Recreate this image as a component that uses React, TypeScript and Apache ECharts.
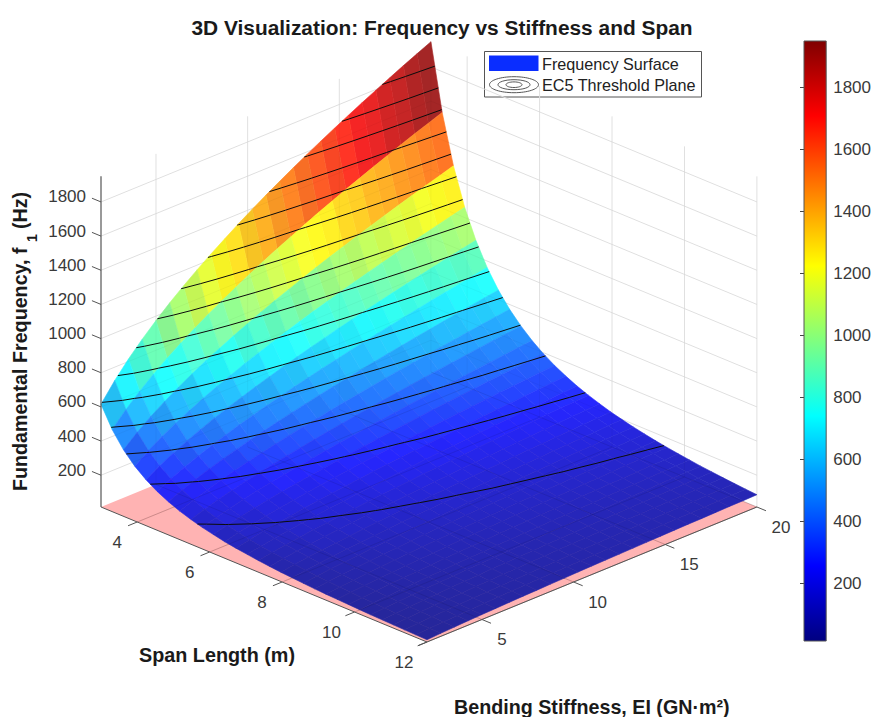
import React, { useEffect, useRef } from "react";
import * as echarts from "echarts";

const spans = [3, 3.31, 3.621, 3.931, 4.241, 4.552, 4.862, 5.172, 5.483, 5.793, 6.103, 6.414, 6.724, 7.034, 7.345, 7.655, 7.966, 8.276, 8.586, 8.897, 9.207, 9.517, 9.828, 10.138, 10.448, 10.759, 11.069, 11.379, 11.69, 12];
const stiffness = [2, 2.75, 3.5, 4.25, 5, 5.75, 6.5, 7.25, 8, 8.75, 9.5, 10.25, 11, 11.75, 12.5, 13.25, 14, 14.75, 15.5, 16.25, 17, 17.75, 18.5, 19.25, 20];
const frequency = [
  [616,722,815,898,974,1045,1111,1173,1232,1288,1343,1395,1445,1493,1540,1586,1630,1673,1715,1756,1796,1835,1874,1911,1948],
  [494,579,653,720,781,837,890,940,987,1032,1076,1118,1158,1196,1234,1271,1306,1341,1374,1407,1439,1471,1502,1531,1561],
  [403,473,534,588,638,684,728,768,807,844,880,914,946,978,1009,1039,1067,1096,1123,1150,1176,1202,1227,1251,1276],
  [335,393,444,489,530,569,605,638,671,701,731,759,787,813,838,863,887,911,933,956,978,999,1020,1040,1060],
  [283,331,374,412,447,480,510,538,565,591,616,640,663,685,707,728,748,768,787,806,824,842,860,877,894],
  [241,283,319,351,381,409,435,459,482,504,526,546,566,584,603,621,638,655,671,687,703,718,733,748,762],
  [208,244,275,303,329,353,375,396,416,435,453,471,488,504,520,535,550,564,579,592,606,619,632,645,657],
  [181,212,239,264,286,307,326,344,362,378,394,410,424,438,452,466,479,491,504,516,527,539,550,561,572],
  [159,186,210,231,251,269,286,302,317,332,346,359,372,384,397,408,420,431,442,452,462,473,483,492,502],
  [140,164,185,204,222,238,253,267,280,293,306,317,329,340,350,361,371,381,390,399,409,417,426,435,443],
  [125,146,165,182,197,212,225,237,249,261,272,282,292,302,312,321,330,339,347,355,364,371,379,387,394],
  [111,131,147,162,176,189,201,212,223,233,243,252,261,270,279,287,295,303,310,318,325,332,339,346,352],
  [100,117,133,146,158,170,181,191,200,210,219,227,235,243,251,258,265,272,279,286,292,299,305,311,317],
  [91,106,120,132,143,154,163,172,181,189,197,205,212,219,226,233,240,246,252,258,264,270,275,281,286],
  [82,96,109,120,130,139,148,156,164,172,179,186,193,199,205,211,217,223,229,234,239,245,250,255,260],
  [75,88,99,109,118,127,135,143,150,156,163,169,176,181,187,193,198,203,208,213,218,223,228,232,237],
  [68,80,91,100,108,116,123,130,137,143,149,155,161,166,171,176,181,186,191,195,200,204,208,212,216],
  [63,74,83,92,99,107,113,120,126,131,137,142,147,152,157,162,166,171,175,179,183,187,191,195,199],
  [58,68,77,84,91,98,104,110,116,121,126,131,136,140,145,149,153,157,161,165,169,172,176,179,183],
  [53,63,71,78,84,90,96,102,107,112,116,121,125,129,133,137,141,145,149,152,156,159,162,165,169],
  [49,58,65,72,78,84,89,94,99,103,108,112,116,120,124,127,131,134,138,141,144,147,150,153,156],
  [46,54,61,67,73,78,83,87,92,96,100,104,108,111,115,118,121,125,128,131,134,137,140,142,145],
  [43,50,56,62,67,72,77,81,85,89,93,97,100,103,107,110,113,116,119,122,124,127,130,132,135],
  [40,47,53,58,63,68,72,76,80,83,87,90,93,96,99,102,105,108,111,113,116,119,121,123,126],
  [37,44,49,54,59,63,67,71,74,78,81,84,87,90,93,96,98,101,103,106,108,111,113,115,117],
  [35,41,46,51,55,59,63,66,70,73,76,79,82,84,87,90,92,95,97,99,101,104,106,108,110],
  [33,38,43,48,52,55,59,62,65,68,71,74,77,79,82,84,86,89,91,93,95,97,99,101,103],
  [31,36,41,45,49,52,55,58,61,64,67,69,72,74,77,79,81,83,85,87,89,91,93,95,97],
  [29,34,38,42,46,49,52,55,58,60,63,65,68,70,72,74,76,78,80,82,84,86,88,90,91],
  [27,32,36,40,43,46,49,52,54,57,59,62,64,66,68,70,72,74,76,78,79,81,83,84,86],
];
const contourLevels = [148,267,386,505,624,743,862,981,1100,1219,1338,1457,1576,1695,1814];
const spanTicks = [4, 6, 8, 10, 12];
const stiffnessTicks = [5, 10, 15, 20];
const frequencyTicks = [200, 400, 600, 800, 1000, 1200, 1400, 1600, 1800];
const colourMin = 14;
const colourMax = 1950;
const spanMin = 3, spanMax = 12, stiffMin = 2, stiffMax = 20;

const FONT = "Liberation Sans";
const TICK = "#3a3a3a";

const project = (L: number, EI: number, f: number) => [
  101 + (L - spanMin) * 36.22 + (EI - stiffMin) * 18.33,
  507 + (L - spanMin) * 15 - (EI - stiffMin) * 7.5 - (f - colourMin) * 0.1708,
];

const clamp = (v: number) => Math.max(0, Math.min(1, v));
const jet = (t: number) => [clamp(1.5 - Math.abs(4 * t - 3)), clamp(1.5 - Math.abs(4 * t - 2)), clamp(1.5 - Math.abs(4 * t - 1))];
const cellColour = (f: number, light: number) => {
  const c = jet((f - colourMin) / (colourMax - colourMin));
  const m = c.map((v) => Math.max(0, Math.min(255, (v * 0.85 + 0.15) * 255 * light)));
  return `rgb(${m[0] | 0},${m[1] | 0},${m[2] | 0})`;
};

function clipToConvex(subject: number[][], clip: number[][]) {
  let out = subject;
  for (let e = 0; e < clip.length; e++) {
    const a = clip[e], b = clip[(e + 1) % clip.length];
    const side = (p: number[]) => (b[0] - a[0]) * (p[1] - a[1]) - (b[1] - a[1]) * (p[0] - a[0]);
    const input = out;
    out = [];
    for (let k = 0; k < input.length; k++) {
      const p = input[k], q = input[(k + 1) % input.length];
      const sp = side(p), sq = side(q);
      if (sp >= 0) out.push(p);
      if (sp >= 0 !== sq >= 0) {
        const t = sp / (sp - sq);
        out.push([p[0] + (q[0] - p[0]) * t, p[1] + (q[1] - p[1]) * t]);
      }
    }
  }
  return out;
}

type Seg = { a: number[]; b: number[]; color: string; width: number };

export default function App() {
  const ref = useRef<HTMLDivElement>(null);
  useEffect(() => {
    document.body.style.margin = "0";
    const chart = echarts.init(ref.current!, undefined, { renderer: "svg" });

    const px = (api: any, p: number[]) => api.coord(p);
    const segSeries = (segs: Seg[]) => ({
      type: "custom",
      coordinateSystem: "cartesian2d",
      xAxisIndex: 0,
      yAxisIndex: 0,
      clip: false,
      silent: true,
      data: segs.map((_, i) => [i, i]),
      renderItem: (params: any, api: any) => {
        const s = segs[params.dataIndex];
        const a = px(api, project(s.a[0], s.a[1], s.a[2]));
        const b = px(api, project(s.b[0], s.b[1], s.b[2]));
        return {
          type: "line",
          shape: { x1: a[0], y1: a[1], x2: b[0], y2: b[1] },
          style: { stroke: s.color, lineWidth: s.width },
        };
      },
    });

    const wallLines = (color: string): Seg[] => {
      const out: Seg[] = [];
      for (const f of frequencyTicks) {
        out.push({ a: [spanMin, stiffMin, f], b: [spanMin, stiffMax, f], color, width: 1 });
        out.push({ a: [spanMin, stiffMax, f], b: [spanMax, stiffMax, f], color, width: 1 });
      }
      for (const e of stiffnessTicks) out.push({ a: [spanMin, e, colourMin], b: [spanMin, e, colourMax], color, width: 1 });
      for (const l of spanTicks) out.push({ a: [l, stiffMax, colourMin], b: [l, stiffMax, colourMax], color, width: 1 });
      return out;
    };
    const floorLines = (color: string): Seg[] => {
      const out: Seg[] = [];
      for (const l of spanTicks) out.push({ a: [l, stiffMin, colourMin], b: [l, stiffMax, colourMin], color, width: 1 });
      for (const e of stiffnessTicks) out.push({ a: [spanMin, e, colourMin], b: [spanMax, e, colourMin], color, width: 1 });
      return out;
    };

    // Surface cells, painted from the far corner to the near corner.
    const cells: number[][] = [];
    for (let i = 0; i < spans.length - 1; i++) {
      for (let j = stiffness.length - 2; j >= 0; j--) cells.push([i, j]);
    }

    // Contour segments walked over the table.
    const contourSegs = (level: number) => {
      const out: number[][][] = [];
      for (let i = 0; i < spans.length - 1; i++) {
        for (let j = 0; j < stiffness.length - 1; j++) {
          const c = [[i, j], [i + 1, j], [i + 1, j + 1], [i, j + 1]];
          const hits: number[][] = [];
          for (let k = 0; k < 4; k++) {
            const p = c[k], q = c[(k + 1) % 4];
            const fp = frequency[p[0]][p[1]], fq = frequency[q[0]][q[1]];
            if ((fp < level) !== (fq < level)) {
              const t = (level - fp) / (fq - fp);
              const L = spans[p[0]] + (spans[q[0]] - spans[p[0]]) * t;
              const E = stiffness[p[1]] + (stiffness[q[1]] - stiffness[p[1]]) * t;
              hits.push([L, E, level]);
            }
          }
          if (hits.length >= 2) out.push([hits[0], hits[1]]);
        }
      }
      return out;
    };
    const contourData: Seg[] = [];
    for (const lv of contourLevels) {
      for (const s of contourSegs(lv)) contourData.push({ a: s[0], b: s[1], color: "#0c0c0c", width: 1 });
    }

    const planeCorners = [
      [spanMin, stiffMin], [spanMax, stiffMin], [spanMax, stiffMax], [spanMin, stiffMax],
    ];

    const outline: number[][] = [];
    for (let j = 0; j < stiffness.length; j++) outline.push([0, j]);
    for (let i = 1; i < spans.length; i++) outline.push([i, stiffness.length - 1]);
    for (let j = stiffness.length - 2; j >= 0; j--) outline.push([spans.length - 1, j]);
    for (let i = spans.length - 2; i > 0; i--) outline.push([i, 0]);

    const polySeries = (points: () => number[][], fill: string) => ({
      type: "custom",
      coordinateSystem: "cartesian2d",
      xAxisIndex: 0,
      yAxisIndex: 0,
      clip: false,
      silent: true,
      data: [[0, 0]],
      renderItem: (_: any, api: any) => ({
        type: "polygon",
        shape: { points: points().map((p) => api.coord(p)) },
        style: { fill },
      }),
    });

    const axisEdges: Seg[] = [
      { a: [spanMin, stiffMin, colourMin], b: [spanMin, stiffMin, colourMax], color: "#555", width: 1.2 },
      { a: [spanMin, stiffMin, colourMin], b: [spanMax, stiffMin, colourMin], color: "#555", width: 1 },
      { a: [spanMax, stiffMin, colourMin], b: [spanMax, stiffMax, colourMin], color: "#555", width: 1 },
    ];
    const tickLen = 0.25;
    for (const f of frequencyTicks) axisEdges.push({ a: [spanMin, stiffMin, f], b: [spanMin - tickLen, stiffMin, f], color: "#555", width: 1 });
    for (const l of spanTicks) axisEdges.push({ a: [l, stiffMin, colourMin], b: [l, stiffMin - tickLen * 2, colourMin], color: "#555", width: 1 });
    for (const e of stiffnessTicks) axisEdges.push({ a: [spanMax, e, colourMin], b: [spanMax + tickLen, e, colourMin], color: "#555", width: 1 });
    axisEdges.push({ a: [spanMax, stiffMin, colourMin], b: [spanMax, stiffMin - tickLen * 2, colourMin], color: "#555", width: 1 });

    const tickText = (text: string, x: number, y: number, align = "center") => ({
      type: "text",
      x,
      y,
      silent: true,
      style: { text, x: 0, y: 0, fill: TICK, font: `17px "${FONT}"`, textAlign: align, textVerticalAlign: "middle" },
    });
    const boldText = (text: string, x: number, y: number, size: number, rotation = 0, align = "left") => ({
      type: "text",
      x,
      y,
      rotation,
      silent: true,
      style: { text, x: 0, y: 0, fill: "#1a1a1a", font: `bold ${size}px "${FONT}"`, textAlign: align, textVerticalAlign: "middle" },
    });

    const graphicEls: any[] = [];
    for (const f of frequencyTicks) {
      const p = project(spanMin, stiffMin, f);
      graphicEls.push(tickText(String(f), 86, p[1] - 5, "right"));
    }
    for (const l of spanTicks) {
      const p = project(l, stiffMin, colourMin);
      graphicEls.push(tickText(String(l), p[0] + (l > 9 ? -23 : -20), p[1] + 20));
    }
    for (const e of stiffnessTicks) {
      const p = project(spanMax, e, colourMin);
      graphicEls.push(tickText(String(e), p[0] + (e > 9 ? 24 : 20), p[1] + 20));
    }
    graphicEls.push(boldText("3D Visualization: Frequency vs Stiffness and Span", 442, 27, 20.9, 0, "center"));
    graphicEls.push(boldText("Span Length (m)", 139, 655, 19.8));
    graphicEls.push(boldText("Bending Stiffness, EI (GN·m²)", 454, 707, 19.7));
    graphicEls.push(boldText("Fundamental Frequency, f", 20, 491, 19.7, Math.PI / 2));
    graphicEls.push(boldText("1", 32, 238, 14, Math.PI / 2, "center"));
    graphicEls.push(boldText("(Hz)", 20, 229, 19.7, Math.PI / 2));
    // Legend
    graphicEls.push({ type: "rect", silent: true, shape: { x: 484.5, y: 51.5, width: 217, height: 45.5 }, style: { fill: "#fff", stroke: "#555", lineWidth: 1 } });
    graphicEls.push({ type: "rect", silent: true, shape: { x: 489, y: 55.5, width: 49.5, height: 15.5 }, style: { fill: "#0a2dff" } });
    for (const [rx, ry] of [[24.5, 8], [16, 5], [8, 2.8]]) {
      graphicEls.push({ type: "ellipse", silent: true, shape: { cx: 514, cy: 84.7, rx, ry }, style: { fill: "none", stroke: "#444", lineWidth: 0.9 } });
    }
    for (const [t, y] of [["Frequency Surface", 64], ["EC5 Threshold Plane", 85]] as [string, number][]) {
      graphicEls.push({
        type: "text", x: 542, y, silent: true,
        style: { text: t, x: 0, y: 0, fill: "#222", font: `16.2px "${FONT}"`, textAlign: "left", textVerticalAlign: "middle" },
      });
    }

    const option: any = {
      animation: false,
      backgroundColor: "#fff",
      grid: [
        { left: 0, top: 0, width: 874, height: 717, show: false },
        { left: 804, top: 41, width: 26, height: 600, show: false },
      ],
      xAxis: [
        { type: "value", gridIndex: 0, min: 0, max: 874, show: false },
        { type: "value", gridIndex: 1, min: 0, max: 1, show: false },
      ],
      yAxis: [
        { type: "value", gridIndex: 0, min: 0, max: 717, inverse: true, show: false },
        {
          type: "value", gridIndex: 1, min: colourMin, max: colourMax, position: "right",
          splitLine: { show: false },
          axisLine: { show: false },
          axisTick: { show: true, inside: true, length: 4, lineStyle: { color: "#444" }, customValues: frequencyTicks },
          axisLabel: { show: true, margin: 7, color: TICK, fontFamily: FONT, fontSize: 17, customValues: frequencyTicks, formatter: (v: number) => String(v), showMinLabel: true, showMaxLabel: true },
        },
      ],
      graphic: { elements: graphicEls },
      series: [
        segSeries(wallLines("#e8e8e8")),
        polySeries(() => planeCorners.map(([l, e]) => project(l, e, colourMin)), "#ffb3b3"),
        segSeries(floorLines("rgba(120,60,60,0.22)")),
        {
          type: "custom",
          coordinateSystem: "cartesian2d",
          xAxisIndex: 0,
          yAxisIndex: 0,
          clip: false,
          silent: true,
          data: cells,
          renderItem: (params: any, api: any) => {
            const [i, j] = cells[params.dataIndex];
            const pts = [[i, j], [i + 1, j], [i + 1, j + 1], [i, j + 1]].map(([a, b]) =>
              api.coord(project(spans[a], stiffness[b], frequency[a][b]))
            );
            const amp = 0.022 * (1 - 0.6 * j / 24) * Math.max(0, 1 - i / 20);
            const light = 1 + (j % 2 ? amp : -amp) + (i % 2 ? amp : -amp);
            const col = cellColour(frequency[i][j], light);
            return { type: "polygon", shape: { points: pts }, style: { fill: col, stroke: col, lineWidth: 0.6 } };
          },
        },
        polySeries(() => {
          const silhouette = outline.map(([i, j]) => project(spans[i], stiffness[j], frequency[i][j]));
          const plane = planeCorners.map(([l, e]) => project(l, e, colourMin));
          return clipToConvex(silhouette, plane);
        }, "rgba(50,10,40,0.3)"),
        segSeries(wallLines("rgba(0,0,0,0.035)")),
        segSeries(floorLines("rgba(0,0,0,0.09)")),
        segSeries(contourData),
        segSeries(axisEdges),
        {
          type: "custom",
          coordinateSystem: "cartesian2d",
          xAxisIndex: 1,
          yAxisIndex: 1,
          clip: false,
          silent: true,
          data: [[0, colourMin]],
          renderItem: (_: any, api: any) => {
            const a = api.coord([0, colourMax]);
            const b = api.coord([1, colourMin]);
            const stops = [
              { offset: 0, color: "rgb(128,0,0)" },
              { offset: 1 / 8, color: "rgb(255,0,0)" },
              { offset: 3 / 8, color: "rgb(255,255,0)" },
              { offset: 5 / 8, color: "rgb(0,255,255)" },
              { offset: 7 / 8, color: "rgb(0,0,255)" },
              { offset: 1, color: "rgb(0,0,128)" },
            ];
            return {
              type: "rect",
              shape: { x: a[0], y: a[1], width: b[0] - a[0], height: b[1] - a[1] },
              style: { fill: new echarts.graphic.LinearGradient(0, 0, 0, 1, stops), stroke: "#555", lineWidth: 1 },
            };
          },
        },
      ],
    };
    chart.setOption(option);
    return () => chart.dispose();
  }, []);
  return <div ref={ref} style={{ width: 874, height: 717, overflow: "hidden" }} />;
}
